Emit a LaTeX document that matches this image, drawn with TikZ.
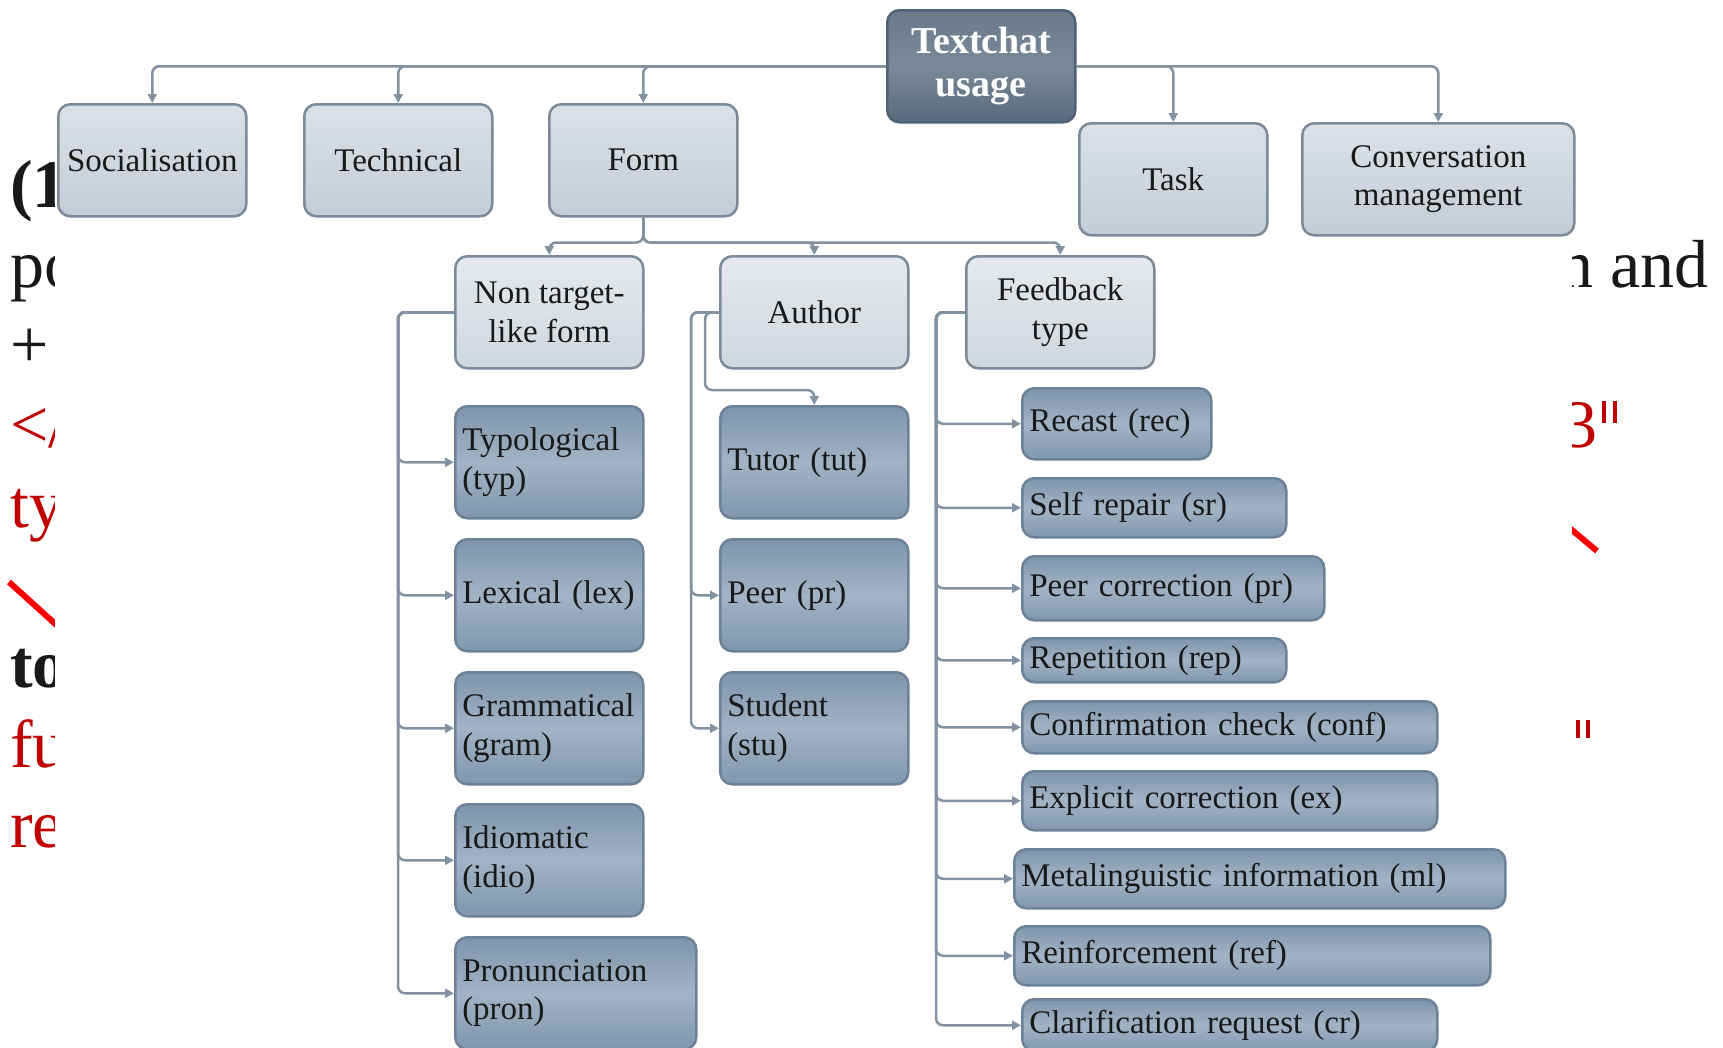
\documentclass[tikz,border=0pt]{standalone}
\usepackage{fontspec}
\setmainfont{Liberation Serif}
\usetikzlibrary{arrows.meta}

\definecolor{boxline}{HTML}{7B8A99}
\definecolor{lvlAtop}{HTML}{DCE1E7}
\definecolor{lvlAbot}{HTML}{C3CCD6}
\definecolor{lvlBtop}{HTML}{E6E9ED}
\definecolor{lvlBbot}{HTML}{D0D7DE}
\definecolor{leafline}{HTML}{6E8297}
\definecolor{leaftop}{HTML}{7F95AC}
\definecolor{leafmid}{HTML}{A2B3C5}
\definecolor{leafbot}{HTML}{8197AE}
\definecolor{rootline}{HTML}{4F6275}
\definecolor{connline}{HTML}{8292A2}
\definecolor{slidered}{HTML}{C00000}

\begin{document}
\begin{tikzpicture}[x=1pt, y=-1pt,
  every node/.style={font=\fontsize{33}{38.5}\selectfont, text=black!90},
  box/.style={draw=boxline, line width=2.5pt, rounded corners=12pt, anchor=north west, inner sep=2pt},
  topic/.style={box, top color=lvlAtop, bottom color=lvlAbot, minimum width=188pt, minimum height=112pt, align=center},
  sub/.style={topic, top color=lvlBtop, bottom color=lvlBbot},
  root/.style={topic, draw=rootline, top color=rootline!85!white, bottom color=rootline!95!white, middle color=rootline!75!white,
    text=white, font=\bfseries\fontsize{38}{43}\selectfont},
  leaf/.style={box, draw=leafline, top color=leaftop, bottom color=leafbot, middle color=leafmid, align=left, inner xsep=7pt},
  conn/.style={draw=connline, line width=2.5pt, rounded corners=7pt, -{Triangle[length=9pt,width=9pt]}},
  stray/.style={anchor=base west, inner sep=0pt, font=\fontsize{68}{80}\selectfont},
  boldstray/.style={stray, font=\bfseries\fontsize{68}{80}\selectfont}
]
\useasboundingbox[fill=white] (0,0) rectangle (1723,1047);

% slide text showing at both sides of the figure
\node[boldstray] (s1) at (10,207) {(1};
\node[stray] (s2) at (10,287) {po};
\node[stray] (s3) at (10,367) {+};
\node[stray, text=slidered] (s4) at (10,447) {</};
\node[stray, text=slidered] (s5) at (10,527) {ty};
\node[boldstray] (s6) at (10,687) {to};
\node[stray, text=slidered] (s7) at (10,767) {fu};
\node[stray, text=slidered] (s8) at (10,847) {re};
\node[stray, anchor=base east] (s9) at (1709,287) {n and};
\node[stray, anchor=base east, text=slidered] (s10) at (1598,447) {3};
\draw[red, line width=6pt] (9,582) -- (62,630);
\draw[red, line width=6pt] (1560,520) -- (1597,551);
\draw[slidered, line width=3.5pt] (1604,401) -- (1604,423) (1615,401) -- (1615,423);
\draw[slidered, line width=3.5pt] (1578,720) -- (1578,738) (1588,720) -- (1588,738);
\fill[white] (55,0) rectangle (1572,1047);

% top levels
\node[root] (root) at (886,9) {Textchat\\usage};
\node[topic] (soc) at (57,103) {Socialisation};
\node[topic] (tech) at (303,103) {Technical};
\node[topic] (form) at (548,103) {Form};
\node[topic] (task) at (1078,122) {Task};
\node[topic, minimum width=272pt] (cm) at (1301,122) {Conversation\\management};
\node[sub] (ntf) at (454,255) {Non target-\\like form};
\node[sub] (aut) at (719,255) {Author};
\node[sub] (fbt) at (965,255) {Feedback\\type};

% leaves
\foreach \n/\y/\t in {typ/405/{Typological\\(typ)}, lex/538/{Lexical (lex)},
    gram/671/{Grammatical\\(gram)}, idio/803/{Idiomatic\\(idio)}}
  \node[leaf, text width=174pt, minimum height=112pt] (\n) at (454,\y) {\t};
\node[leaf, text width=227pt, minimum height=112pt] (pron) at (454,936) {Pronunciation\\(pron)};
\foreach \n/\y/\t in {tut/405/{Tutor (tut)}, peer/538/{Peer (pr)}, stu/671/{Student\\(stu)}}
  \node[leaf, text width=174pt, minimum height=112pt] (\n) at (719,\y) {\t};
\foreach \n/\x/\y/\w/\h/\t in {rec/1021/387/189/71/{Recast (rec)}, sr/1021/477/264/59/{Self repair (sr)},
    pc/1021/555/302/64/{Peer correction (pr)}, rep/1021/637/264/44/{Repetition (rep)},
    conf/1021/700/415/52/{Confirmation check (conf)}, ex/1021/770/415/59/{Explicit correction (ex)},
    ml/1013/848/491/59/{Metalinguistic information (ml)}, ref/1013/925/476/59/{Reinforcement (ref)},
    cr/1021/998/415/52/{Clarification request (cr)}}{
  \pgfmathsetmacro\tw{\w-14}
  \node[leaf, text width=\tw pt, minimum height=\h pt] (\n) at (\x,\y) {\t};
}

% connectors
\foreach \n in {soc,tech,form} \draw[conn] (root.west) -| (\n.north);
\foreach \n in {task,cm} \draw[conn] (root.east) -| (\n.north);
\foreach \n in {ntf,aut,fbt} \draw[conn] (form.south) -- ++(0,25) -| (\n.north);
\foreach \n in {typ,lex,gram,idio,pron} \draw[conn] (ntf.west) -- ++(-56,0) |- (\n.west);
\foreach \n in {peer,stu} \draw[conn] (aut.west) -- ++(-28,0) |- (\n.west);
\draw[conn] (aut.west) -- ++(-14,0) |- ([yshift=15pt]tut.north) -- (tut.north);
\foreach \n in {rec,sr,pc,rep,conf,ex,ml,ref,cr} \draw[conn] (fbt.west) -- ++(-29,0) |- (\n.west);
\end{tikzpicture}
\end{document}
